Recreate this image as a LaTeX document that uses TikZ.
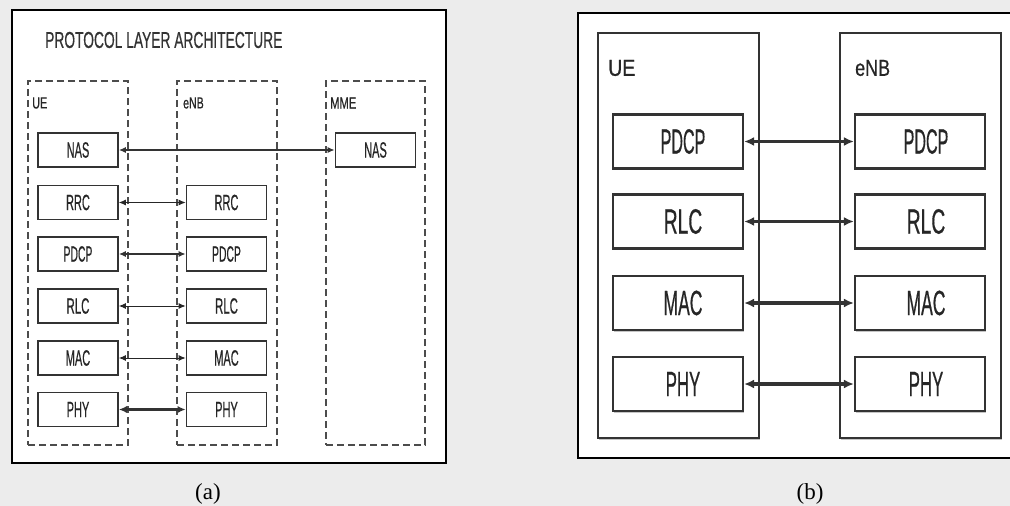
\documentclass[tikz,border=0pt]{standalone}
\usepackage{graphicx}
\usepackage{fontspec}
\setmainfont{Liberation Serif}
\newfontfamily\hv[FakeBold=0.7]{Liberation Sans}
\usetikzlibrary{arrows.meta,shadows}
\newcommand{\nx}[2]{\scalebox{#1}[1]{#2}}
\tikzset{
  frame/.style={draw=black,line width=2.6pt,fill=white},
  dbox/.style={draw=black!70,line width=1.8pt,dash pattern=on 7pt off 4pt},
  abox/.style={draw=black!80,line width=1.6pt,fill=white,minimum width=80pt,minimum height=34pt,inner sep=0pt,
    font=\hv\fontsize{22}{22}\selectfont,text=black!85},
  bbox/.style={draw=black!80,line width=2.2pt,fill=white,minimum width=130pt,minimum height=54pt,inner sep=0pt,
    font=\hv\fontsize{35}{35}\selectfont,text=black!85,drop shadow={shadow xshift=1pt,shadow yshift=-1.5pt,fill=black!45}},
  obox/.style={draw=black!80,line width=1.8pt,drop shadow={shadow xshift=1pt,shadow yshift=-1.5pt,fill=black!45},fill=white},
  lbl/.style={anchor=west,inner sep=0pt,text=black!85},
  thinarr/.style={{Latex[length=7pt,width=6pt]}-{Latex[length=7pt,width=6pt]},line width=1pt,draw=black!85},
  medarr/.style={{Latex[length=7pt,width=6pt]}-{Latex[length=7pt,width=6pt]},line width=2pt,draw=black!80},
  bigarr/.style={{Latex[length=8pt,width=7pt]}-{Latex[length=8pt,width=7pt]},line width=2.8pt,draw=black!80},
  hugearr/.style={{Latex[length=10pt,width=9pt]}-{Latex[length=10pt,width=9pt]},line width=3.2pt,draw=black!80},
  captxt/.style={inner sep=0pt,font=\fontsize{23}{23}\selectfont}
}
\begin{document}
\begin{tikzpicture}[x=1pt,y=-1pt]
\useasboundingbox (0,0) rectangle (1010,506);
\clip (0,0) rectangle (1010,506);
\fill[gray!15] (0,0) rectangle (1010,506);
% ---------- panel (a)
\node[frame,minimum width=434pt,minimum height=453pt,inner sep=0pt] (fa) at (229,236.5) {};
\node[lbl,text=black!80,font=\hv\fontsize{23}{23}\selectfont] (title) at (45,40) {\nx{0.6}{PROTOCOL LAYER ARCHITECTURE}};
\node[dbox,minimum width=100pt,minimum height=364pt,inner sep=0pt] (dUE) at (78,263) {};
\node[dbox,minimum width=100pt,minimum height=364pt,inner sep=0pt] (dENB) at (227,263) {};
\node[dbox,minimum width=99pt,minimum height=364pt,inner sep=0pt] (dMME) at (375.5,263) {};
\node[lbl,font=\hv\fontsize{16}{16}\selectfont] (lUE) at (32,103) {\nx{0.68}{UE}};
\node[lbl,font=\hv\fontsize{16}{16}\selectfont] (lENB) at (183,103) {\nx{0.66}{eNB}};
\node[lbl,font=\hv\fontsize{16}{16}\selectfont] (lMME) at (330,103) {\nx{0.7}{MME}};
% UE column
\node[abox] (aNAS) at (78,150) {\nx{0.5}{NAS}};
\node[abox] (aRRC) at (78,202.5) {\nx{0.5}{RRC}};
\node[abox] (aPDCP) at (78,254) {\nx{0.47}{PDCP}};
\node[abox] (aRLC) at (78,306) {\nx{0.52}{RLC}};
\node[abox] (aMAC) at (78,358) {\nx{0.5}{MAC}};
\node[abox] (aPHY) at (78,409.5) {\nx{0.5}{PHY}};
% eNB column
\node[abox] (eRRC) at (226.5,202.5) {\nx{0.5}{RRC}};
\node[abox] (ePDCP) at (226.5,254) {\nx{0.47}{PDCP}};
\node[abox] (eRLC) at (226.5,306) {\nx{0.52}{RLC}};
\node[abox] (eMAC) at (226.5,358) {\nx{0.5}{MAC}};
\node[abox] (ePHY) at (226.5,409.5) {\nx{0.5}{PHY}};
% MME
\node[abox] (mNAS) at (375.5,150) {\nx{0.5}{NAS}};
% arrows (a)
\draw[medarr] (aNAS.east) -- (mNAS.west);
\draw[thinarr] (aRRC.east) -- (eRRC.west);
\draw[medarr] (aPDCP.east) -- (ePDCP.west);
\draw[thinarr] (aRLC.east) -- (eRLC.west);
\draw[thinarr] (aMAC.east) -- (eMAC.west);
\draw[bigarr] (aPHY.east) -- (ePHY.west);
\node[captxt] (capa) at (208,494) {(a)};
% ---------- panel (b)
\node[frame,minimum width=450pt,minimum height=445pt,inner sep=0pt] (fb) at (803,235.5) {};
\node[obox,minimum width=161pt,minimum height=405pt,inner sep=0pt] (oUE) at (678.5,235.5) {};
\node[obox,minimum width=161pt,minimum height=405pt,inner sep=0pt] (oENB) at (920.5,235.5) {};
\node[lbl,font=\hv\fontsize{23}{23}\selectfont] (bUE) at (608,68) {\nx{0.85}{UE}};
\node[lbl,font=\hv\fontsize{23}{23}\selectfont] (bENB) at (855,68) {\nx{0.78}{eNB}};
\node[bbox] (bPDCP) at (678,141.5) {\hspace{10pt}\nx{0.46}{PDCP}};
\node[bbox] (bRLC) at (678,221.5) {\hspace{10pt}\nx{0.55}{RLC}};
\node[bbox] (bMAC) at (678,303) {\hspace{10pt}\nx{0.5}{MAC}};
\node[bbox] (bPHY) at (678,384) {\hspace{10pt}\nx{0.48}{PHY}};
\node[bbox] (cPDCP) at (920,141.5) {\hspace{12pt}\nx{0.46}{PDCP}};
\node[bbox] (cRLC) at (920,221.5) {\hspace{12pt}\nx{0.55}{RLC}};
\node[bbox] (cMAC) at (920,303) {\hspace{12pt}\nx{0.5}{MAC}};
\node[bbox] (cPHY) at (920,384) {\hspace{12pt}\nx{0.48}{PHY}};
\draw[hugearr] (bPDCP.east) -- (cPDCP.west);
\draw[hugearr] (bRLC.east) -- (cRLC.west);
\draw[hugearr] (bMAC.east) -- (cMAC.west);
\draw[hugearr] (bPHY.east) -- (cPHY.west);
\node[captxt] (capb) at (810,494) {(b)};
\end{tikzpicture}
\end{document}
